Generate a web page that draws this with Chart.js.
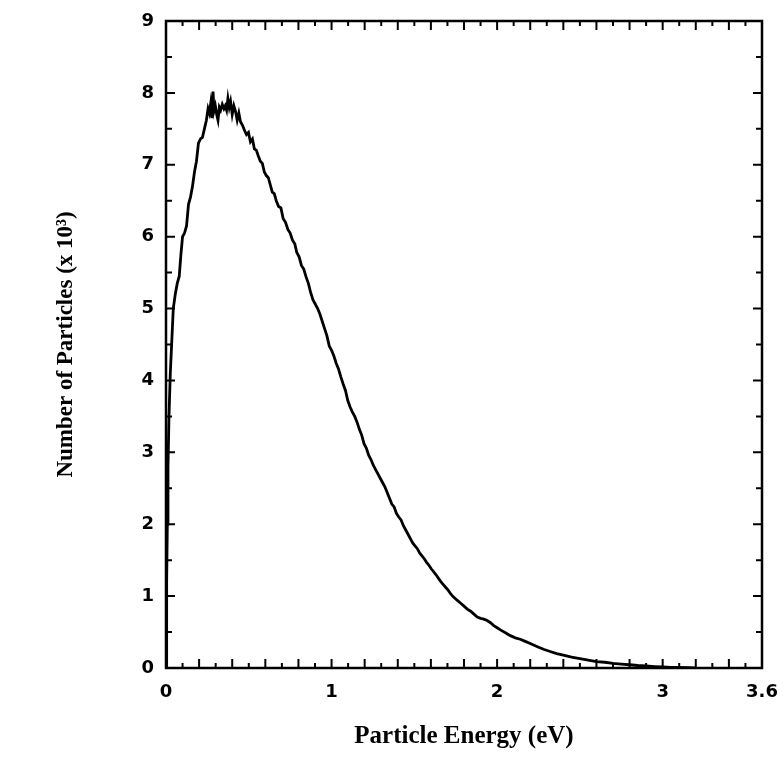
<!DOCTYPE html>
<html>
<head>
<meta charset="utf-8">
<script src="https://cdn.jsdelivr.net/npm/chart.js@4.4.1/dist/chart.umd.min.js"></script>
<style>
  html, body { margin: 0; padding: 0; background: #fff; }
  #wrap { width: 783px; height: 758px; }
</style>
</head>
<body>
<div id="wrap"><canvas id="spectrum" width="783" height="758"></canvas></div>
<script>
// particle energy (eV)
const energy = [
  0, 0.004, 0.008, 0.012, 0.018, 0.026, 0.034, 0.044, 0.056, 0.068,
  0.080, 0.090, 0.100, 0.112, 0.124, 0.136, 0.148, 0.160, 0.172, 0.184,
  0.196, 0.208, 0.220, 0.232, 0.244, 0.254, 0.262, 0.270, 0.278, 0.284,
  0.290, 0.298, 0.306, 0.314, 0.322, 0.330, 0.340, 0.350, 0.358, 0.366,
  0.374, 0.382, 0.390, 0.400, 0.410, 0.420, 0.430, 0.440, 0.450, 0.462,
  0.474, 0.486, 0.498, 0.510, 0.522, 0.534, 0.546, 0.558, 0.570, 0.582,
  0.594, 0.606, 0.618, 0.630, 0.642, 0.654, 0.666, 0.680, 0.694, 0.708,
  0.722, 0.736, 0.750, 0.764, 0.778, 0.790, 0.804, 0.818, 0.832, 0.846,
  0.860, 0.874, 0.888, 0.902, 0.916, 0.930, 0.944, 0.958, 0.972, 0.986,
  1.000, 1.014, 1.028, 1.042, 1.056, 1.070, 1.084, 1.098, 1.112, 1.126,
  1.140, 1.154, 1.168, 1.182, 1.196, 1.210, 1.224, 1.238, 1.252, 1.266,
  1.280, 1.294, 1.308, 1.322, 1.336, 1.350, 1.364, 1.378, 1.392, 1.406,
  1.420, 1.434, 1.448, 1.462, 1.476, 1.490, 1.504, 1.518, 1.532, 1.546,
  1.560, 1.574, 1.588, 1.602, 1.616, 1.630, 1.645, 1.660, 1.675, 1.690,
  1.705, 1.720, 1.735, 1.750, 1.765, 1.780, 1.800, 1.820, 1.840, 1.860,
  1.880, 1.900, 1.920, 1.940, 1.960, 1.980, 2.000, 2.020, 2.050, 2.080,
  2.110, 2.140, 2.170, 2.200, 2.240, 2.280, 2.320, 2.360, 2.400, 2.450,
  2.500, 2.550, 2.600, 2.650, 2.700, 2.750, 2.800, 2.850, 2.900, 2.950,
  3.000, 3.050, 3.100, 3.150, 3.200
];

// number of particles (x 10^3)
const counts = [
  0, 1.2, 2.0, 2.8, 3.5, 4.1, 4.5, 5.0, 5.2, 5.35,
  5.45, 5.75, 6.0, 6.05, 6.15, 6.45, 6.55, 6.7, 6.9, 7.05,
  7.3, 7.36, 7.38, 7.5, 7.62, 7.78, 7.72, 7.85, 7.65, 8.02,
  7.75, 7.82, 7.7, 7.62, 7.8, 7.76, 7.84, 7.78, 7.82, 7.76,
  7.92, 7.8, 7.88, 7.7, 7.82, 7.74, 7.62, 7.72, 7.6, 7.55,
  7.48, 7.42, 7.45, 7.32, 7.36, 7.22, 7.2, 7.12, 7.05, 7.02,
  6.9, 6.85, 6.82, 6.72, 6.62, 6.6, 6.5, 6.42, 6.4, 6.25,
  6.2, 6.1, 6.05, 5.95, 5.9, 5.78, 5.72, 5.6, 5.55, 5.44,
  5.35, 5.22, 5.12, 5.06, 5.0, 4.92, 4.82, 4.72, 4.62, 4.48,
  4.42, 4.34, 4.24, 4.16, 4.05, 3.95, 3.86, 3.72, 3.63, 3.56,
  3.5, 3.42, 3.32, 3.24, 3.12, 3.06, 2.96, 2.9, 2.82, 2.76,
  2.7, 2.64, 2.58, 2.52, 2.44, 2.36, 2.28, 2.24, 2.15, 2.1,
  2.06, 1.98, 1.92, 1.86, 1.8, 1.74, 1.7, 1.66, 1.6, 1.56,
  1.52, 1.47, 1.43, 1.38, 1.34, 1.3, 1.25, 1.2, 1.16, 1.12,
  1.08, 1.03, 0.99, 0.96, 0.93, 0.9, 0.86, 0.82, 0.79, 0.75,
  0.71, 0.69, 0.68, 0.66, 0.63, 0.59, 0.56, 0.53, 0.49, 0.45,
  0.42, 0.4, 0.37, 0.34, 0.3, 0.26, 0.23, 0.2, 0.18, 0.15,
  0.13, 0.11, 0.09, 0.08, 0.065, 0.055, 0.045, 0.035, 0.028, 0.02,
  0.014, 0.01, 0.007, 0.004, 0.002
];

const xTickLabels = [0, 1, 2, 3, 3.6];
const yTickLabels = [0, 1, 2, 3, 4, 5, 6, 7, 8, 9];

const serif = '"Liberation Serif", "DejaVu Serif", serif';
const sans = '"DejaVu Sans", "Liberation Sans", sans-serif';

// box frame with inward ticks on all four sides
const frameTicks = {
    id: 'frameTicks',
    afterDraw(chart) {
        const ctx = chart.ctx;
        const a = chart.chartArea;
        const xs = chart.scales.x;
        const ys = chart.scales.y;
        ctx.save();
        ctx.strokeStyle = '#000';
        ctx.lineWidth = 2.5;
        ctx.strokeRect(a.left, a.top, a.right - a.left, a.bottom - a.top);

        ctx.lineWidth = 2;
        ctx.beginPath();
        for (let i = 1; i < 36; i++) {
            const px = xs.getPixelForValue(i / 10);
            const len = i % 2 === 0 ? 9 : 5;
            ctx.moveTo(px, a.bottom);
            ctx.lineTo(px, a.bottom - len);
            ctx.moveTo(px, a.top);
            ctx.lineTo(px, a.top + len);
        }
        for (let j = 1; j < 18; j++) {
            const py = ys.getPixelForValue(j / 2);
            const len = j % 2 === 0 ? 9 : 6;
            ctx.moveTo(a.left, py);
            ctx.lineTo(a.left + len, py);
            ctx.moveTo(a.right, py);
            ctx.lineTo(a.right - len, py);
        }
        ctx.stroke();
        ctx.restore();
    }
};

const points = energy.map((e, i) => ({ x: e, y: counts[i] }));

new Chart(document.getElementById('spectrum'), {
    type: 'line',
    data: {
        datasets: [{
            data: points,
            borderColor: '#000',
            borderWidth: 2.8,
            pointRadius: 0,
            tension: 0,
            fill: false
        }]
    },
    options: {
        responsive: false,
        animation: false,
        layout: { padding: { left: 0, right: 21, top: 21, bottom: 0 } },
        plugins: {
            legend: { display: false },
            tooltip: { enabled: false }
        },
        scales: {
            x: {
                type: 'linear',
                min: 0,
                max: 3.6,
                afterBuildTicks: s => { s.ticks = xTickLabels.map(v => ({ value: v })); },
                afterFit: s => {
                    s.height = 90;
                    s.paddingLeft = 0;
                    s.paddingRight = 0;
                },
                grid: { display: false, drawTicks: false },
                border: { display: false },
                ticks: {
                    color: '#000',
                    padding: 14,
                    maxRotation: 0,
                    autoSkip: false,
                    font: { family: sans, size: 18, weight: 'bold' },
                    callback: v => String(v)
                },
                title: {
                    display: true,
                    text: 'Particle Energy (eV)',
                    color: '#000',
                    padding: { top: 0, bottom: 6 },
                    font: { family: serif, size: 25, weight: 'bold' }
                }
            },
            y: {
                type: 'linear',
                min: 0,
                max: 9,
                afterBuildTicks: s => { s.ticks = yTickLabels.map(v => ({ value: v })); },
                afterFit: s => {
                    s.width = 166;
                    s.paddingTop = 0;
                    s.paddingBottom = 0;
                },
                grid: { display: false, drawTicks: false },
                border: { display: false },
                ticks: {
                    color: '#000',
                    padding: 12,
                    font: { family: sans, size: 18, weight: 'bold' }
                },
                title: {
                    display: true,
                    text: 'Number of Particles (x 10\u00b3)',
                    color: '#000',
                    padding: { top: 52, bottom: 0 },
                    font: { family: serif, size: 23, weight: 'bold' }
                }
            }
        }
    },
    plugins: [frameTicks]
});
</script>
</body>
</html>
